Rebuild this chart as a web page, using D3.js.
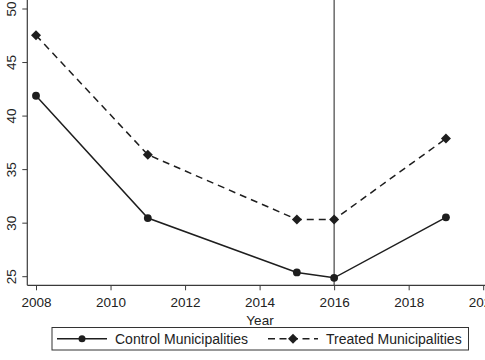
<!DOCTYPE html>
<html><head><meta charset="utf-8">
<script src="https://cdn.jsdelivr.net/npm/d3@7"></script>
<style>body{margin:0;background:#fff}svg{display:block}text{font-family:"Liberation Sans",Arial,Helvetica,sans-serif}</style>
</head><body>
<script>
const years = [2008, 2011, 2015, 2016, 2019];
const control = [41.85, 30.43, 25.35, 24.85, 30.5];
const treated = [47.5, 36.35, 30.3, 30.3, 37.85];
const xTicks = [2008, 2010, 2012, 2014, 2016, 2018, 2020];
const yTicks = [25, 30, 35, 40, 45, 50];
const treatYear = 2016;
const seriesNames = ["Control Municipalities", "Treated Municipalities"];

const W = 485, H = 360;
const svg = d3.select("body").append("svg").attr("width", W).attr("height", H);
const x = d3.scaleLinear().domain([2008, 2020]).range([36, 483.2]);
const y = d3.scaleLinear().domain([25, 50]).range([276.2, 8.5]);
const axisY0 = 285.3, axisX0 = 27.3;
const ink = "#1e1e1e", axisCol = "#3a3a3a";
const fs = 13.5;

// axes
const gx = svg.append("g").attr("transform", `translate(0,${axisY0})`)
  .call(d3.axisBottom(x).tickValues(xTicks).tickFormat(d3.format("d")).tickSize(5).tickPadding(7));
gx.select(".domain").remove();
gx.selectAll("line").attr("stroke", axisCol);
gx.selectAll("text").attr("font-size", fs).attr("fill", "#222");

const gy = svg.append("g").attr("transform", `translate(${axisX0},0)`)
  .call(d3.axisLeft(y).tickValues(yTicks).tickSize(5).tickFormat(d3.format("d")));
gy.select(".domain").remove();
gy.selectAll("line").attr("stroke", axisCol);
gy.selectAll("text").attr("font-size", fs).attr("fill", "#222")
  .attr("text-anchor", "middle").attr("x", 0).attr("dy", 0)
  .attr("transform", "translate(-15,0) rotate(-90)")
  .attr("dominant-baseline", "middle");

svg.append("line").attr("x1", axisX0).attr("x2", W).attr("y1", axisY0).attr("y2", axisY0).attr("stroke", axisCol).attr("stroke-width", 1.2);
svg.append("line").attr("x1", axisX0).attr("x2", axisX0).attr("y1", 0).attr("y2", axisY0).attr("stroke", axisCol).attr("stroke-width", 1.2);

// vertical treatment line
svg.append("line").attr("x1", x(treatYear)).attr("x2", x(treatYear)).attr("y1", 0).attr("y2", axisY0)
  .attr("stroke", "#444").attr("stroke-width", 1.2);

svg.append("text").attr("x", 260).attr("y", 325).attr("text-anchor", "middle").attr("font-size", fs).attr("fill", "#222").text("Year");

const line = d3.line().x(d => x(d[0])).y(d => y(d[1]));
const cData = years.map((yr, i) => [yr, control[i]]);
const tData = years.map((yr, i) => [yr, treated[i]]);

svg.append("path").datum(tData).attr("d", line).attr("fill", "none").attr("stroke", ink).attr("stroke-width", 1.5).attr("stroke-dasharray", "7,5");
svg.append("path").datum(cData).attr("d", line).attr("fill", "none").attr("stroke", ink).attr("stroke-width", 1.5);

const diamondSq = d3.symbol().type(d3.symbolSquare).size(50);
svg.selectAll(".c").data(cData).enter().append("circle")
  .attr("cx", d => x(d[0])).attr("cy", d => y(d[1])).attr("r", 3.9).attr("fill", ink);
svg.selectAll(".t").data(tData).enter().append("path")
  .attr("d", diamondSq).attr("transform", d => `translate(${x(d[0])},${y(d[1])}) rotate(45)`).attr("fill", ink);

// legend
const lg = svg.append("g");
lg.append("rect").attr("x", 52).attr("y", 327.5).attr("width", 416.5).attr("height", 22.5)
  .attr("fill", "#fff").attr("stroke", "#333").attr("stroke-width", 1);
const ly = 338.8;
lg.append("line").attr("x1", 57).attr("x2", 107).attr("y1", ly).attr("y2", ly).attr("stroke", ink).attr("stroke-width", 1.4);
lg.append("circle").attr("cx", 82).attr("cy", ly).attr("r", 3.5).attr("fill", ink);
lg.append("text").attr("x", 115).attr("y", ly).attr("dy", "0.36em").attr("font-size", 14).attr("fill", "#222").text(seriesNames[0]);
lg.append("line").attr("x1", 268).attr("x2", 318).attr("y1", ly).attr("y2", ly).attr("stroke", ink).attr("stroke-width", 1.4).attr("stroke-dasharray", "7,4.5");
lg.append("path").attr("d", diamondSq).attr("transform", `translate(293,${ly}) rotate(45)`).attr("fill", ink);
lg.append("text").attr("x", 326).attr("y", ly).attr("dy", "0.36em").attr("font-size", 14).attr("fill", "#222").text(seriesNames[1]);
</script>
</body></html>
